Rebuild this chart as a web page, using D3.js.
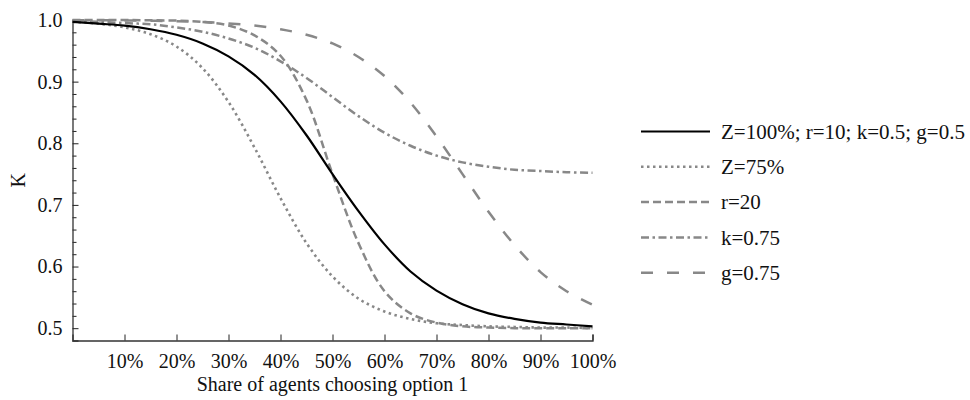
<!DOCTYPE html>
<html>
<head>
<meta charset="utf-8">
<script src="https://cdn.jsdelivr.net/npm/d3@7"></script>
<style>
  body { margin: 0; background: #fff; }
</style>
</head>
<body>
<div id="chart"></div>
<script>
// share of agents choosing option 1 (%)
const shares = [0, 5, 10, 15, 20, 25, 30, 35, 40, 45, 50, 55, 60, 65, 70, 75, 80, 85, 90, 95, 100];

const baseK = [0.997, 0.994, 0.991, 0.985, 0.976, 0.962, 0.941, 0.911, 0.868, 0.813, 0.750,
  0.690, 0.636, 0.592, 0.561, 0.539, 0.524, 0.515, 0.509, 0.506, 0.503];
const z75K = [0.997, 0.994, 0.988, 0.977, 0.957, 0.922, 0.867, 0.793, 0.711, 0.638, 0.584,
  0.548, 0.527, 0.515, 0.508, 0.505, 0.503, 0.502, 0.501, 0.501, 0.500];
const r20K = [1.000, 1.000, 1.000, 0.9995, 0.999, 0.997, 0.991, 0.975, 0.942, 0.870, 0.750,
  0.638, 0.560, 0.524, 0.509, 0.503, 0.501, 0.500, 0.500, 0.500, 0.500];
const k075K = [0.998, 0.997, 0.995, 0.993, 0.988, 0.981, 0.970, 0.955, 0.933, 0.906, 0.875,
  0.844, 0.817, 0.796, 0.780, 0.769, 0.762, 0.757, 0.755, 0.753, 0.752];
const g075K = [0.9997, 0.9995, 0.9993, 0.9988, 0.998, 0.9967, 0.9945, 0.991, 0.985, 0.976, 0.962,
  0.940, 0.909, 0.866, 0.811, 0.750, 0.689, 0.635, 0.591, 0.560, 0.538];

const labels = ['Z=100%; r=10; k=0.5; g=0.5', 'Z=75%', 'r=20', 'k=0.75', 'g=0.75'];
const xTicks = [10, 20, 30, 40, 50, 60, 70, 80, 90, 100];
const yTicks = [0.5, 0.6, 0.7, 0.8, 0.9, 1.0];

const series = [
  { name: labels[0], values: baseK, color: '#000', width: 2.2, dash: null },
  { name: labels[1], values: z75K, color: '#888', width: 2.6, dash: '2.5,3.5' },
  { name: labels[2], values: r20K, color: '#888', width: 2.5, dash: '8,4' },
  { name: labels[3], values: k075K, color: '#888', width: 2.5, dash: '8,3.5,2.5,3.5' },
  { name: labels[4], values: g075K, color: '#888', width: 2.5, dash: '12,14' },
];

const width = 970;
const height = 400;
const font = '"Liberation Serif", "DejaVu Serif", serif';

const svg = d3.select('#chart')
  .append('svg')
  .attr('width', width)
  .attr('height', height)
  .attr('font-family', font);

const xScale = d3.scaleLinear().domain([0, 100]).range([72.5, 592.5]);
const yScale = d3.scaleLinear().domain([0.48, 1.0]).range([340.5, 20]);

// axes (only left and bottom, ticks pointing inward)
const xAxis = d3.axisBottom(xScale)
  .tickValues(xTicks)
  .tickSize(-6)
  .tickPadding(13)
  .tickFormat((d) => d + '%');

svg.append('g')
  .attr('transform', `translate(0, ${yScale(0.48)})`)
  .call(xAxis)
  .attr('font-family', font)
  .attr('font-size', 20)
  .call((g) => g.select('.domain').attr('stroke', '#333').attr('stroke-width', 1.3))
  .call((g) => g.selectAll('.tick line').attr('stroke', '#222'))
  .call((g) => g.selectAll('text').attr('fill', '#111'));

const yMinor = d3.range(0.5, 1.001, 0.02).filter((v) => Math.abs(Math.round(v * 10) - v * 10) > 1e-6);

svg.append('g')
  .attr('transform', `translate(${xScale(0)}, 0)`)
  .call(d3.axisLeft(yScale).tickValues(yMinor).tickSize(-4).tickFormat(''))
  .call((g) => g.select('.domain').remove())
  .call((g) => g.selectAll('.tick line').attr('stroke', '#222'));

const yAxis = d3.axisLeft(yScale)
  .tickValues(yTicks)
  .tickSize(-6)
  .tickPadding(10)
  .tickFormat(d3.format('.1f'));

svg.append('g')
  .attr('transform', `translate(${xScale(0)}, 0)`)
  .call(yAxis)
  .attr('font-family', font)
  .attr('font-size', 20)
  .call((g) => g.select('.domain').attr('stroke', '#333').attr('stroke-width', 1.3))
  .call((g) => g.selectAll('.tick line').attr('stroke', '#222'))
  .call((g) => g.selectAll('text').attr('fill', '#111'));

// axis titles
svg.append('text')
  .attr('x', xScale(50))
  .attr('y', 391)
  .attr('text-anchor', 'middle')
  .attr('font-size', 20)
  .attr('fill', '#111')
  .text('Share of agents choosing option 1');

svg.append('text')
  .attr('transform', `translate(25, ${yScale(0.74)}) rotate(-90)`)
  .attr('text-anchor', 'middle')
  .attr('font-size', 20)
  .attr('fill', '#111')
  .text('K');

// curves
const line = d3.line()
  .x((d) => xScale(d[0]))
  .y((d) => yScale(d[1]))
  .curve(d3.curveCatmullRom.alpha(0.5));

const curves = svg.append('g').attr('class', 'curves');

[...series.slice(1), series[0]].forEach((s) => {
  curves.append('path')
    .datum(shares.map((x, i) => [x, s.values[i]]))
    .attr('d', line)
    .attr('fill', 'none')
    .attr('stroke', s.color)
    .attr('stroke-width', s.width)
    .attr('stroke-dasharray', s.dash);
});

// legend
const legend = svg.append('g').attr('class', 'legend');

series.forEach((s, i) => {
  const y = 131.5 + i * 35.3;
  legend.append('line')
    .attr('x1', 641).attr('x2', 710)
    .attr('y1', y).attr('y2', y)
    .attr('stroke', s.color)
    .attr('stroke-width', s.width)
    .attr('stroke-dasharray', s.dash);
  legend.append('text')
    .attr('x', 721)
    .attr('y', y)
    .attr('dy', '0.35em')
    .attr('font-size', 21)
    .attr('fill', '#111')
    .text(s.name);
});
</script>
</body>
</html>
